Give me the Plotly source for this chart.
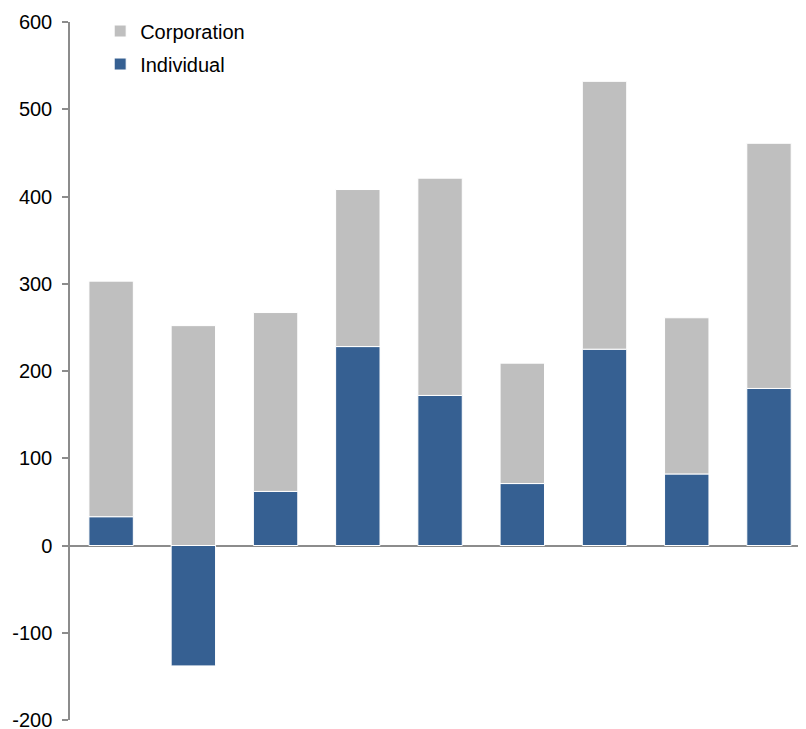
import plotly.graph_objects as go

categories = ["1", "2", "3", "4", "5", "6", "7", "8", "9"]
individual = [33, -138, 62, 228, 172, 71, 225, 82, 180]
corporation = [270, 252, 205, 180, 249, 138, 307, 179, 281]
tick_vals = [-200, -100, 0, 100, 200, 300, 400, 500, 600]
tick_text = ["-200", "-100", "0", "100", "200", "300", "400", "500", "600"]

fig = go.Figure()
fig.add_trace(go.Bar(x=categories, y=individual, name="Individual",
                     marker=dict(color="#366092", line=dict(color="white", width=1)),
                     width=0.54, legendgroup="b", legendrank=2))
fig.add_trace(go.Bar(x=categories, y=corporation, name="Corporation",
                     marker=dict(color="#bfbfbf", line=dict(color="white", width=1)),
                     width=0.54, legendgroup="a", legendrank=1))

# page body has an 8px default margin, so the figure is shrunk to compensate
fig.update_layout(
    width=798, height=721,
    barmode="relative",
    plot_bgcolor="white", paper_bgcolor="white",
    margin=dict(l=62, r=0, t=14, b=9, autoexpand=False),
    font=dict(family="Liberation Sans, Arial, sans-serif", size=20, color="black"),
    showlegend=True,
    legend=dict(x=0.041, y=1.015, xanchor="left", yanchor="top",
                traceorder="grouped", tracegroupgap=4,
                bgcolor="rgba(0,0,0,0)", itemwidth=30,
                font=dict(size=20)),
    xaxis=dict(type="category", range=[-0.5, 8.45], showticklabels=False,
               showline=False, showgrid=False, ticks="", automargin=False),
    yaxis=dict(range=[-200, 600], tickvals=tick_vals, ticktext=tick_text, showgrid=False,
               showline=True, linecolor="#8c8c8c", linewidth=1.5,
               ticks="outside", ticklen=6, tickcolor="#8c8c8c", tickwidth=1.5,
               zeroline=True, zerolinecolor="#8c8c8c", zerolinewidth=1.5,
               ticklabelstandoff=6, automargin=False, ticklabeloverflow="allow"),
)

fig.write_html("out.html")
